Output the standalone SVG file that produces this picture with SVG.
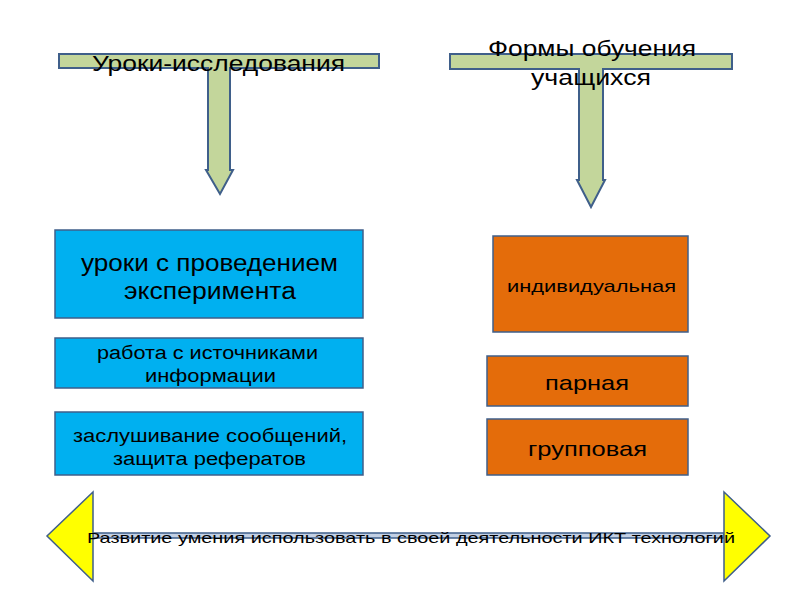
<svg xmlns="http://www.w3.org/2000/svg" width="800" height="600" viewBox="0 0 800 600">
<style>
.t{font-family:"Liberation Sans",Arial,sans-serif;fill:#000;text-anchor:start}
.ar{fill:#C3D69B;stroke:#3F5F8A;stroke-width:2}
.blue{fill:#00B0F0;stroke:#3F5F8A;stroke-width:1.5}
.orange{fill:#E46C0A;stroke:#3F5F8A;stroke-width:1.5}
.yel{fill:#FFFF00;stroke:#3F5F8A;stroke-width:1.5}
</style>
<rect width="800" height="600" fill="#fff"/>
<g id="connectors">
<path class="ar" d="M59,54 H379 V68 H230 V170 H233 L220,194 L206,170 H208 V68 H59 Z"/>
<path class="ar" d="M450,54 H732 V69 H603 V180 H605 L591,207 L577,180 H579 V69 H450 Z"/>
<path d="M93,533 H724 V538 H93 Z" fill="#C3D0E4" stroke="#3F5F8A" stroke-width="1.5"/>
</g>
<g id="title-left"><text class="t" x="92" y="71" font-size="22" textLength="253" lengthAdjust="spacingAndGlyphs">Уроки-исследования</text></g>
<g id="title-right"><text class="t" x="488" y="56" font-size="22" textLength="208" lengthAdjust="spacingAndGlyphs">Формы обучения</text><text class="t" x="531" y="85" font-size="22" textLength="120" lengthAdjust="spacingAndGlyphs">учащихся</text></g>
<g id="box-l1"><rect class="blue" x="55" y="230" width="308" height="88"/><text class="t" x="81" y="271" font-size="23" textLength="257" lengthAdjust="spacingAndGlyphs">уроки с проведением</text><text class="t" x="124" y="299" font-size="23" textLength="172" lengthAdjust="spacingAndGlyphs">эксперимента</text></g>
<g id="box-l2"><rect class="blue" x="55" y="338" width="308" height="50"/><text class="t" x="97" y="359" font-size="18" textLength="221" lengthAdjust="spacingAndGlyphs">работа с источниками</text><text class="t" x="145" y="382" font-size="18" textLength="131" lengthAdjust="spacingAndGlyphs">информации</text></g>
<g id="box-l3"><rect class="blue" x="55" y="412" width="308" height="63"/><text class="t" x="73" y="442" font-size="18" textLength="274" lengthAdjust="spacingAndGlyphs">заслушивание сообщений,</text><text class="t" x="113" y="465" font-size="18" textLength="193" lengthAdjust="spacingAndGlyphs">защита рефератов</text></g>
<g id="box-r1"><rect class="orange" x="493" y="236" width="195" height="96"/><text class="t" x="507" y="292" font-size="17" textLength="169" lengthAdjust="spacingAndGlyphs">индивидуальная</text></g>
<g id="box-r2"><rect class="orange" x="487" y="356" width="201" height="50"/><text class="t" x="545" y="390" font-size="21" textLength="84" lengthAdjust="spacingAndGlyphs">парная</text></g>
<g id="box-r3"><rect class="orange" x="487" y="419" width="201" height="56"/><text class="t" x="528" y="456" font-size="21" textLength="119" lengthAdjust="spacingAndGlyphs">групповая</text></g>
<g id="bottom-arrow">
<path class="yel" d="M93,492 L47,536 L93,581 Z"/>
<path class="yel" d="M724,492 L770,536 L724,581 Z"/>
<text class="t" x="87" y="543" font-size="15" textLength="648" lengthAdjust="spacingAndGlyphs">Развитие умения использовать в своей  деятельности ИКТ технологий</text>
</g>
</svg>
